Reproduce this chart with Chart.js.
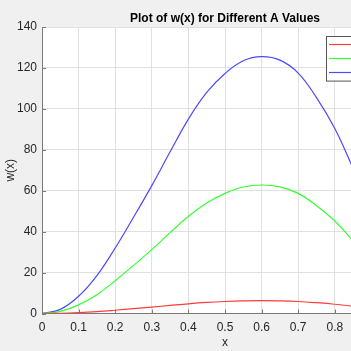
<!DOCTYPE html>
<html>
<head>
<meta charset="utf-8">
<script src="https://cdn.jsdelivr.net/npm/chart.js@4/dist/chart.umd.min.js"></script>
<style>
  html, body { margin: 0; padding: 0; overflow: hidden; background: #f0f0f0; }
  canvas { display: block; }
</style>
</head>
<body>
<canvas id="w-chart" width="440" height="351"></canvas>
<script>
// Values
const xValues = [0, 0.05, 0.1, 0.15, 0.2, 0.25, 0.3, 0.35, 0.4, 0.45, 0.5, 0.55, 0.6, 0.65, 0.7, 0.75, 0.8, 0.85];
const wRed = [0, 0.1, 0.42, 0.92, 1.6, 2.35, 3.12, 3.95, 4.75, 5.4, 5.87, 6.18, 6.28, 6.19, 5.87, 5.27, 4.52, 3.55];
const wGreen = [0, 1, 4.2, 9.2, 16, 23.5, 31.2, 39.5, 47.5, 54, 58.7, 61.8, 62.8, 61.9, 58.7, 52.7, 45.2, 35.5];
const wBlue = [0, 2, 8.4, 18.5, 32, 47, 62.5, 79, 95, 108, 117.3, 123.5, 125.5, 123.8, 117.5, 105.5, 90.4, 71];
const seriesLabels = ['A = 1', 'A = 10', 'A = 20'];
const seriesColors = ['#ff3c3c', '#33ff33', '#4a4aff'];

const font = 'Liberation Sans';
const textColor = '#262626';
const titleText = 'Plot of w(x) for Different A Values';

function toPoints(ys) {
    return xValues.map((x, i) => ({ x: x, y: ys[i] }));
}

// Gray figure background, white axes area, title centred on the axes
const bgPlugin = {
    id: 'bg',
    beforeDraw(chart) {
        const { ctx, chartArea: a } = chart;
        ctx.save();
        ctx.fillStyle = '#f0f0f0';
        ctx.fillRect(0, 0, chart.width, chart.height);
        ctx.fillStyle = '#ffffff';
        ctx.fillRect(a.left, a.top, a.right - a.left, a.bottom - a.top);
        ctx.fillStyle = '#000000';
        ctx.font = 'bold 12px "' + font + '"';
        ctx.textAlign = 'center';
        ctx.textBaseline = 'middle';
        ctx.fillText(titleText, (a.left + a.right) / 2, 18.5);
        ctx.restore();
    }
};

// Inward tick marks like MATLAB
const tickPlugin = {
    id: 'inTicks',
    afterDatasetsDraw(chart) {
        const { ctx, chartArea: a, scales } = chart;
        ctx.save();
        ctx.strokeStyle = '#7a7a7a';
        ctx.lineWidth = 1;
        ctx.beginPath();
        scales.x.ticks.forEach((t) => {
            const px = Math.round(scales.x.getPixelForValue(t.value)) + 0.5;
            ctx.moveTo(px, a.bottom);
            ctx.lineTo(px, a.bottom - 4);
        });
        scales.y.ticks.forEach((t) => {
            const py = Math.round(scales.y.getPixelForValue(t.value)) + 0.5;
            ctx.moveTo(a.left, py);
            ctx.lineTo(a.left + 4, py);
        });
        ctx.stroke();
        ctx.restore();
    }
};

// Boxed legend in the upper right corner
const legendBoxPlugin = {
    id: 'legendBox',
    afterDraw(chart) {
        const { ctx, chartArea: a } = chart;
        const left = a.right - 82, top = a.top + 9;
        const rowH = 14.2;
        ctx.save();
        ctx.fillStyle = '#ffffff';
        ctx.fillRect(left, top, 76, rowH * 3 + 2);
        ctx.strokeStyle = '#555555';
        ctx.lineWidth = 1;
        ctx.strokeRect(left + 0.5, top + 0.5, 76, rowH * 3 + 2);
        seriesLabels.forEach((label, i) => {
            const y = Math.round(top + 8 + i * rowH) + 0.5;
            ctx.strokeStyle = seriesColors[i];
            ctx.lineWidth = 1.2;
            ctx.beginPath();
            ctx.moveTo(left + 3, y);
            ctx.lineTo(left + 33, y);
            ctx.stroke();
            ctx.fillStyle = '#000000';
            ctx.font = '11px "' + font + '"';
            ctx.textAlign = 'left';
            ctx.textBaseline = 'middle';
            ctx.fillText(label, left + 37, y);
        });
        ctx.restore();
    }
};

new Chart(document.getElementById('w-chart').getContext('2d'), {
    type: 'line',
    data: {
        datasets: seriesLabels.map((label, i) => ({
            label: label,
            data: toPoints([wRed, wGreen, wBlue][i]),
            borderColor: seriesColors[i],
            borderWidth: 1.2,
            pointRadius: 0,
            tension: 0.4,
            fill: false
        }))
    },
    options: {
        responsive: false,
        animation: false,
        layout: { padding: { left: 0, right: 32, top: 27, bottom: 0 } },
        plugins: {
            legend: { display: false },
            tooltip: { enabled: false },
            title: { display: false }
        },
        scales: {
            x: {
                type: 'linear',
                min: 0,
                max: 1,
                afterFit: (s) => { s.height = 37.5; },
                ticks: { stepSize: 0.1, color: textColor, padding: 7, maxRotation: 0,
                    font: { family: font, size: 12 } },
                grid: { color: '#e0e0e0', drawTicks: false },
                border: { color: '#7a7a7a', width: 1 },
                title: { display: true, text: 'x', color: textColor, padding: { top: 0, bottom: 1 },
                    font: { family: font, size: 12 } }
            },
            y: {
                min: 0,
                max: 140,
                afterFit: (s) => { s.width = 42; },
                ticks: { stepSize: 20, color: textColor, padding: 5,
                    font: { family: font, size: 12 } },
                grid: { color: '#e0e0e0', drawTicks: false },
                border: { color: '#7a7a7a', width: 1 },
                title: { display: true, text: 'w(x)', color: textColor, padding: { top: 3, bottom: 0 },
                    font: { family: font, size: 12 } }
            }
        }
    },
    plugins: [bgPlugin, tickPlugin, legendBoxPlugin]
});
</script>
</body>
</html>
